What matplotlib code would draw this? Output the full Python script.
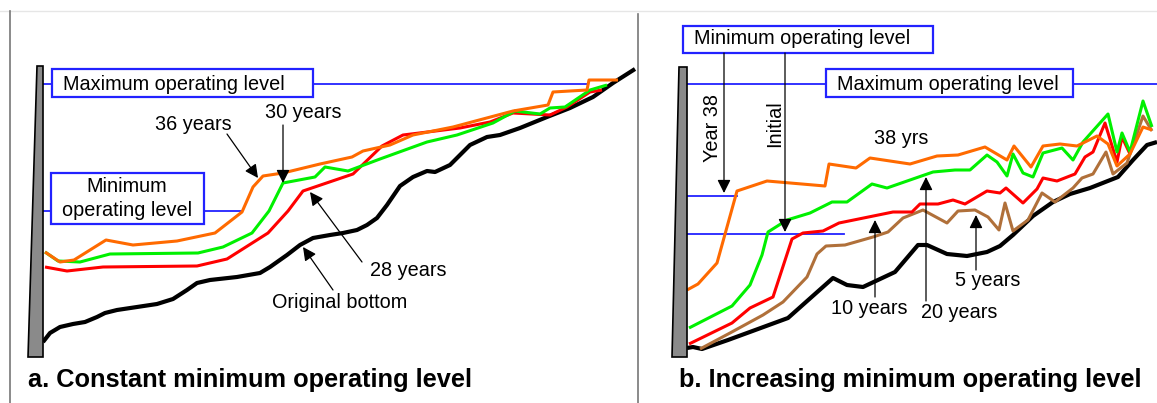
import matplotlib
matplotlib.use("Agg")
import matplotlib.pyplot as plt
from matplotlib.patches import Rectangle, Polygon

plt.rcParams['font.family'] = ['Liberation Sans', 'DejaVu Sans']

W, H = 1157, 403

# ---- panel a: constant minimum operating level (pixel-space schematic) ----
a_bottom_x = [43, 50, 60, 73, 85, 97, 105, 117, 137, 157, 173, 187, 197, 210, 237, 260, 270,
              287, 300, 313, 330, 343, 357, 367, 377, 387, 400, 413, 427, 435, 450, 470, 487,
              500, 520, 547, 570, 593, 613, 635]
a_bottom_y = [342, 333, 327, 324, 322, 317, 313, 310, 307, 304, 299, 290, 283, 280, 277, 273,
              267, 255, 245, 238, 235, 233, 230, 225, 218, 205, 186, 177, 171, 172, 165, 145,
              137, 135, 128, 117, 108, 97, 83, 69]

a_28_x = [45, 67, 103, 197, 227, 268, 288, 303, 353, 382, 403, 460, 490, 513, 550, 567, 590, 602]
a_28_y = [267, 271, 267, 266, 259, 233, 211, 191, 174, 146, 135, 128, 122, 113, 115, 107, 92, 90]

a_30_x = [45, 58, 80, 110, 198, 223, 252, 269, 283, 315, 325, 348, 380, 427, 457, 493, 515,
          540, 550, 565, 590, 607]
a_30_y = [252, 261, 262, 254, 253, 247, 233, 211, 183, 177, 167, 171, 159, 142, 135, 123, 111,
          114, 108, 107, 90, 85]

a_36_x = [45, 60, 74, 106, 133, 177, 215, 242, 253, 263, 283, 320, 352, 363, 390, 413, 453,
          513, 548, 553, 587, 589, 618]
a_36_y = [252, 262, 260, 240, 245, 241, 233, 212, 187, 176, 173, 164, 157, 151, 145, 135, 127,
          111, 105, 92, 90, 80, 80]

# ---- panel b: increasing minimum operating level ----
b_bottom_x = [687, 693, 702, 728, 788, 833, 847, 863, 895, 918, 927, 947, 967, 987, 1000, 1013,
              1033, 1053, 1070, 1090, 1118, 1133, 1147, 1157]
b_bottom_y = [348, 347, 349, 340, 318, 278, 285, 287, 272, 245, 245, 254, 256, 252, 246, 235,
              216, 202, 194, 188, 177, 160, 145, 142]

b_5_x = [700, 730, 763, 783, 807, 817, 826, 845, 873, 888, 903, 923, 947, 958, 975, 988, 999,
         1005, 1013, 1028, 1042, 1055, 1073, 1082, 1093, 1106, 1113, 1127, 1143, 1152]
b_5_y = [349, 333, 315, 302, 277, 254, 246, 245, 237, 232, 218, 210, 223, 211, 210, 217, 230,
         203, 231, 220, 193, 202, 188, 178, 174, 152, 174, 163, 116, 131]

b_10_x = [689, 732, 750, 773, 792, 803, 823, 839, 893, 912, 920, 938, 953, 965, 987, 1000, 1006,
          1023, 1037, 1043, 1057, 1075, 1085, 1093, 1105, 1117, 1122, 1130]
b_10_y = [344, 323, 308, 297, 239, 233, 231, 223, 212, 212, 204, 204, 200, 204, 191, 193, 188,
          203, 189, 178, 181, 174, 157, 152, 123, 162, 137, 154]

b_20_x = [689, 732, 750, 762, 768, 787, 810, 832, 847, 872, 887, 933, 955, 970, 987, 997, 1007,
          1013, 1023, 1033, 1043, 1062, 1073, 1083, 1108, 1117, 1122, 1130, 1143, 1152]
b_20_y = [328, 306, 285, 255, 232, 220, 213, 202, 202, 184, 188, 172, 170, 170, 155, 162, 176,
          154, 173, 177, 153, 148, 160, 142, 114, 152, 133, 152, 101, 127]

b_38_x = [687, 698, 717, 737, 767, 825, 829, 856, 870, 910, 937, 958, 985, 1007, 1014, 1031,
          1043, 1060, 1077, 1097, 1108, 1117, 1130, 1143, 1152]
b_38_y = [290, 284, 263, 191, 181, 186, 164, 168, 158, 164, 156, 155, 147, 160, 146, 167, 146,
          144, 146, 136, 144, 166, 154, 127, 130]

ORANGE = '#ff6a00'
GREEN = '#00f000'
RED = '#ff0000'
BROWN = '#b0703a'
BLUE = '#2222ff'

fig = plt.figure(figsize=(W / 100, H / 100), dpi=100)
ax = fig.add_axes([0, 0, 1, 1])
ax.set_xlim(0, W)
ax.set_ylim(H, 0)
ax.axis('off')

# frame lines
ax.plot([0, W], [11, 11], color='#e6e6e6', lw=1)
ax.plot([10, 10], [11, H], color='#777777', lw=1.2)
ax.plot([638, 638], [14, H], color='#777777', lw=1.2)


def box(x0, y0, x1, y1):
    ax.add_patch(Rectangle((x0, y0), x1 - x0, y1 - y0, facecolor='white',
                           edgecolor=BLUE, lw=1.6, zorder=4))


def arrow(x0, y0, x1, y1):
    ax.annotate('', xy=(x1, y1), xytext=(x0, y0),
                arrowprops=dict(arrowstyle='-|>', color='black', lw=0.9,
                                mutation_scale=20, shrinkA=0, shrinkB=0), zorder=6)


def dam(pts):
    ax.add_patch(Polygon(pts, closed=True, facecolor='#8a8a8a', edgecolor='black',
                         lw=1.2, zorder=5))


def curve(xs, ys, color, lw=2.2, z=3):
    ax.plot(xs, ys, color=color, lw=lw, zorder=z, solid_joinstyle='round',
            solid_capstyle='butt')


fs = 14.3

# ---------------- panel a ----------------
dam([(37, 66), (43, 66), (43, 357), (28, 357)])
ax.plot([43, 588], [84, 84], color=BLUE, lw=1.3, zorder=1)
box(52, 69, 313, 97)
ax.text(63, 84, 'Maximum operating level', fontsize=fs, va='center', ha='left', zorder=5)
ax.plot([43, 242], [211, 211], color=BLUE, lw=1.3, zorder=1)
box(51, 173, 204, 224)
ax.text(127, 186, 'Minimum', fontsize=fs, va='center', ha='center', zorder=5)
ax.text(127, 210, 'operating level', fontsize=fs, va='center', ha='center', zorder=5)

curve(a_bottom_x, a_bottom_y, 'black', lw=3, z=2)
curve(a_28_x, a_28_y, RED)
curve(a_30_x, a_30_y, GREEN)
curve(a_36_x, a_36_y, ORANGE)

ax.text(193, 124, '36 years', fontsize=fs, va='center', ha='center')
arrow(227, 134, 258, 178)
ax.text(303, 113, '30 years', fontsize=fs, va='center', ha='center')
arrow(283, 125, 283, 183)
ax.text(408, 270, '28 years', fontsize=fs, va='center', ha='center')
arrow(362, 262, 310, 192)
ax.text(340, 302, 'Original bottom', fontsize=fs, va='center', ha='center')
arrow(333, 290, 303, 247)

ax.text(28, 380, 'a. Constant minimum operating level', fontsize=18.3,
        fontweight='bold', va='center', ha='left')

# ---------------- panel b ----------------
dam([(679, 67), (687, 67), (687, 357), (672, 357)])
ax.plot([687, W], [84, 84], color=BLUE, lw=1.3, zorder=1)
box(826, 69, 1073, 97)
ax.text(837, 84, 'Maximum operating level', fontsize=fs, va='center', ha='left', zorder=5)
box(683, 26, 933, 53)
ax.text(694, 39, 'Minimum operating level', fontsize=fs, va='center', ha='left', zorder=5)
ax.plot([687, 737], [196, 196], color=BLUE, lw=1.3, zorder=1)
ax.plot([687, 844], [234, 234], color=BLUE, lw=1.3, zorder=1)

curve(b_bottom_x, b_bottom_y, 'black', lw=3, z=2)
curve(b_5_x, b_5_y, BROWN)
curve(b_10_x, b_10_y, RED)
curve(b_20_x, b_20_y, GREEN)
curve(b_38_x, b_38_y, ORANGE)

arrow(724, 53, 724, 193)
ax.text(713, 128, 'Year 38', fontsize=fs, va='center', ha='center', rotation=90)
arrow(785, 53, 785, 232)
ax.text(775, 124, 'Initial', fontsize=fs, va='center', ha='center', rotation=90)

ax.text(901, 138, '38 yrs', fontsize=fs, va='center', ha='center')
ax.text(869, 308, '10 years', fontsize=fs, va='center', ha='center')
arrow(875, 297, 875, 220)
ax.text(959, 313, '20 years', fontsize=fs, va='center', ha='center')
arrow(926, 301, 926, 177)
ax.text(988, 281, '5 years', fontsize=fs, va='center', ha='center')
arrow(976, 270, 976, 215)

ax.text(679, 380, 'b. Increasing minimum operating level', fontsize=18.3,
        fontweight='bold', va='center', ha='left')

fig.savefig('out.png', dpi=100)
